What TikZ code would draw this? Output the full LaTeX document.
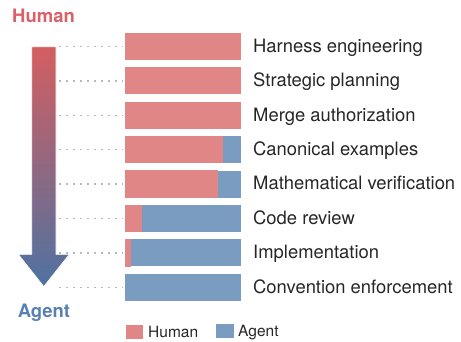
\documentclass[tikz,border=0pt]{standalone}
\usepackage{fontspec}
\setmainfont{TeX Gyre Heros}
\definecolor{humanbar}{RGB}{224,134,134}
\definecolor{agentbar}{RGB}{122,156,192}
\definecolor{humantitle}{RGB}{217,98,106}
\definecolor{agenttitle}{RGB}{88,128,178}
\definecolor{arrowtop}{RGB}{212,94,96}
\definecolor{arrowbottom}{RGB}{78,114,162}
\tikzset{
  bar/.style={draw=none, inner sep=0pt, minimum width=115.5pt, minimum height=27pt},
  lbl/.style={anchor=base west, inner sep=0pt, font=\fontsize{18.4}{20}\selectfont, text=black!85},
  leader/.style={draw=black!28, line width=1.5pt, dash pattern=on 1.5pt off 5.5pt, shorten >=2pt},
  swatch/.style={draw=none, inner sep=0pt, minimum width=17.5pt, minimum height=14pt},
  legendtext/.style={anchor=base west, inner sep=0pt, font=\fontsize{15.5}{17}\selectfont, text=black!85},
  title/.style={anchor=base, inner sep=0pt, font=\bfseries\fontsize{18.5}{20}\selectfont}
}
\begin{document}
\begin{tikzpicture}[x=1pt, y=-1pt]
    \useasboundingbox (0,0) rectangle (461,341);
    % axis titles and gradient arrow
    \node [title, text=humantitle] (human) at (43.5,22.7) {Human};
    \node [title, text=agenttitle] (agent) at (44,317.3) {Agent};
    \path [top color=arrowtop, bottom color=arrowbottom, draw=white, line width=.6pt]
      (31.7,46.7) -- (56,46.7) -- (56,254.3) -- (69.3,254.3) -- (43.8,286.5)
      -- (18.3,254.3) -- (31.7,254.3) -- cycle;
    % bars
    \node [bar, fill=humanbar, anchor=west] (b1) at (125,46.5) {};
    \node [bar, fill=humanbar, anchor=west] (b2) at (125,80.9) {};
    \node [bar, fill=humanbar, anchor=west] (b3) at (125,115.3) {};
    \node [bar, fill=agentbar, anchor=west] (b4) at (125,149.7) {};
    \node [bar, fill=agentbar, anchor=west] (b5) at (125,184.1) {};
    \node [bar, fill=agentbar, anchor=west] (b6) at (125,218.5) {};
    \node [bar, fill=agentbar, anchor=west] (b7) at (125,252.9) {};
    \node [bar, fill=agentbar, anchor=west] (b8) at (125,287.3) {};
    \fill [humanbar] (b4.north west) rectangle ([xshift=98pt]b4.south west);
    \fill [humanbar] (b5.north west) rectangle ([xshift=92.5pt]b5.south west);
    \fill [humanbar] (b6.north west) rectangle ([xshift=17.3pt]b6.south west);
    \fill [humanbar] (b7.north west) rectangle ([xshift=5.8pt]b7.south west);
    % labels
    \node [lbl] (l1) at (253,52.3) {Harness engineering};
    \node [lbl] (l2) at (253,86.7) {Strategic planning};
    \node [lbl] (l3) at (253,121.1) {Merge authorization};
    \node [lbl] (l4) at (253,155.5) {Canonical examples};
    \node [lbl] (l5) at (253,189.9) {Mathematical verification};
    \node [lbl] (l6) at (253,224.3) {Code review};
    \node [lbl] (l7) at (253,258.7) {Implementation};
    \node [lbl] (l8) at (253,293.1) {Convention enforcement};
    % dotted leaders from the arrow to the bars
    \coordinate (d1) at (59,46.5);
    \coordinate (d2) at (59,80.9);
    \coordinate (d3) at (59,115.3);
    \coordinate (d4) at (59,149.7);
    \coordinate (d5) at (59,184.1);
    \coordinate (d6) at (59,218.5);
    \coordinate (d7) at (59,252.9);
    \coordinate (d8) at (59,287.3);
    \draw [leader] (d1) -- (b1.west);
    \draw [leader] (d2) -- (b2.west);
    \draw [leader] (d3) -- (b3.west);
    \draw [leader] (d4) -- (b4.west);
    \draw [leader] (d5) -- (b5.west);
    \draw [leader] (d6) -- (b6.west);
    \draw [leader] (d7) -- (b7.west);
    \draw [leader] (d8) -- (b8.west);
    % legend
    \node [swatch, fill=humanbar] (kh) at (134.5,332) {};
    \node [legendtext] (kht) at (148,337.7) {Human};
    \node [swatch, fill=agentbar] (ka) at (225,331) {};
    \node [legendtext] (kat) at (238,336.7) {Agent};
\end{tikzpicture}
\end{document}
